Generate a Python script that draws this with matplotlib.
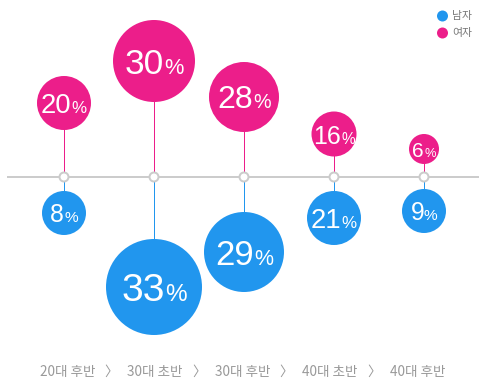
import matplotlib
matplotlib.use("Agg")
import matplotlib.pyplot as plt
from matplotlib.patches import Circle
from matplotlib.offsetbox import TextArea, HPacker, AnnotationBbox

# data
groups = ["20대 후반", "30대 초반", "30대 후반", "40대 초반", "40대 후반"]
male = [8, 33, 29, 21, 9]
female = [20, 30, 28, 16, 6]
legend_labels = ["남자", "여자"]

# hand-tuned layout (pixels)
female_radius = [27, 41, 35, 22.5, 15]
female_offset = [74, 116, 80, 43, 28]
male_radius = [22, 48, 40, 27, 22]
male_offset = [36, 110, 75, 41, 34]

BLUE = "#2196EE"
PINK = "#EC1E8A"
GRAY = "#CCCCCC"
W, H = 487, 391
AXIS_Y = 177
X0, STEP = 64, 90
PX = 72 / 100  # px -> pt
KR = ["Noto Sans CJK KR", "DejaVu Sans"]

fig = plt.figure(figsize=(W / 100, H / 100), dpi=100)
ax = fig.add_axes([0, 0, 1, 1])
ax.set_xlim(0, W)
ax.set_ylim(H, 0)
ax.set_aspect("equal")
ax.axis("off")

# baseline
ax.plot([8, 478], [AXIS_Y, AXIS_Y], color=GRAY, lw=2 * PX, zorder=1)


def bubble(x, y, r, value, color):
    ax.add_patch(Circle((x, y), r, color=color, lw=0, zorder=3))
    cap = 9 + 0.4 * r
    fs = cap / 0.72 * PX
    num = TextArea(str(value), textprops=dict(color="white", fontsize=fs,
                                              family="Liberation Sans"))
    pct = TextArea("%", textprops=dict(color="white", fontsize=fs * 0.62,
                                       family="Liberation Sans"))
    box = HPacker(children=[num, pct], align="baseline", pad=0, sep=0)
    ab = AnnotationBbox(box, (x, y + cap * 0.14), frameon=False,
                        box_alignment=(0.5, 0.5), zorder=4, pad=0)
    ax.add_artist(ab)


for i in range(len(groups)):
    x = X0 + STEP * i
    fy = AXIS_Y - female_offset[i]
    my = AXIS_Y + male_offset[i]
    ax.plot([x, x], [AXIS_Y, fy], color=PINK, lw=1 * PX, zorder=2)
    ax.plot([x, x], [AXIS_Y, my], color=BLUE, lw=1 * PX, zorder=2)
    bubble(x, fy, female_radius[i], female[i], PINK)
    bubble(x, my, male_radius[i], male[i], BLUE)
    ax.add_patch(Circle((x, AXIS_Y), 4.5, facecolor="white", edgecolor=GRAY,
                        lw=2 * PX, zorder=5))

# legend
for j, (lab, col) in enumerate(zip(legend_labels, [BLUE, PINK])):
    ly = 16 + 17 * j
    ax.add_patch(Circle((442.5, ly), 5.5, color=col, lw=0))
    ax.text(452, ly, lab, fontsize=7.8, color="#777777", va="center", ha="left",
            family=KR)

# category labels along the bottom
LAB_STEP = 87.5
lab_x0 = 242.5 - LAB_STEP * (len(groups) - 1) / 2
for i, g in enumerate(groups):
    lx = lab_x0 + LAB_STEP * i
    ax.text(lx, 372, g, fontsize=9.8, color="#999999", ha="center", va="center",
            family=KR)
    if i < len(groups) - 1:
        ax.text(lx + LAB_STEP / 2, 372, "〉", fontsize=9.8, color="#999999",
                ha="center", va="center", family=KR)

fig.savefig("out.png", dpi=100)
